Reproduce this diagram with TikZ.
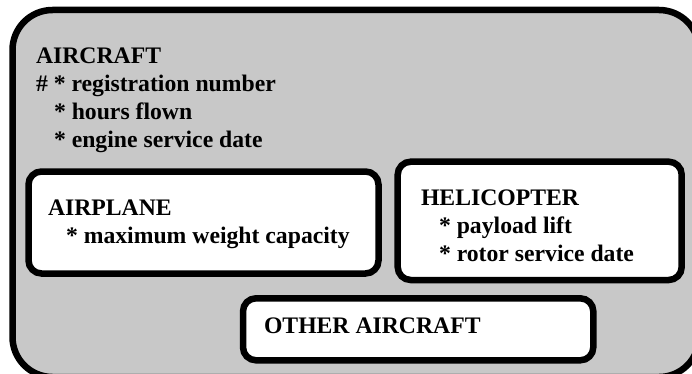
\documentclass[tikz,border=0pt]{standalone}
\usepackage{fontspec}
\setmainfont{Liberation Serif}
\definecolor{panelgray}{RGB}{200,200,200}
\tikzset{
  outerbox/.style={draw=black, fill=panelgray, line width=6.5pt, rounded corners=40pt, inner sep=0pt, outer sep=0pt},
  innerbox/.style={draw=black, fill=white, line width=6.5pt, rounded corners=13pt, inner sep=0pt, outer sep=0pt},
  lbl/.style={anchor=base west, inner sep=0pt, outer sep=0pt, font=\fontsize{23.7}{28}\selectfont\bfseries}
}
\begin{document}
\begin{tikzpicture}[x=1pt, y=-1pt]
  \useasboundingbox (0,0) rectangle (692,374);
  \clip (0,0) rectangle (692,374);
  % outer AIRCRAFT box
  \node[outerbox, minimum width=686.5pt, minimum height=367pt] (aircraft) at (355.75,193.5) {};
  % inner boxes
  \node[innerbox, minimum width=350pt, minimum height=102pt] (airplane) at (203.5,222.5) {};
  \node[innerbox, minimum width=284pt, minimum height=118.3pt] (helicopter) at (539.7,220.85) {};
  \node[innerbox, minimum width=350.3pt, minimum height=62pt] (other) at (418.15,329.3) {};
  % texts
  \node[lbl] (t1) at (36,63.3) {AIRCRAFT};
  \node[lbl] (t2) at (36,91.3) {\# * registration number};
  \node[lbl] (t3) at (54,119.1) {* hours flown};
  \node[lbl] (t4) at (54,147) {* engine service date};
  \node[lbl] (t5) at (48,215) {AIRPLANE};
  \node[lbl] (t6) at (66,243.3) {* maximum weight capacity};
  \node[lbl] (t7) at (421,205) {HELICOPTER};
  \node[lbl] (t8) at (439,233.3) {* payload lift};
  \node[lbl] (t9) at (439,261.7) {* rotor service date};
  \node[lbl] (t10) at (264,333.3) {OTHER AIRCRAFT};
\end{tikzpicture}
\end{document}
